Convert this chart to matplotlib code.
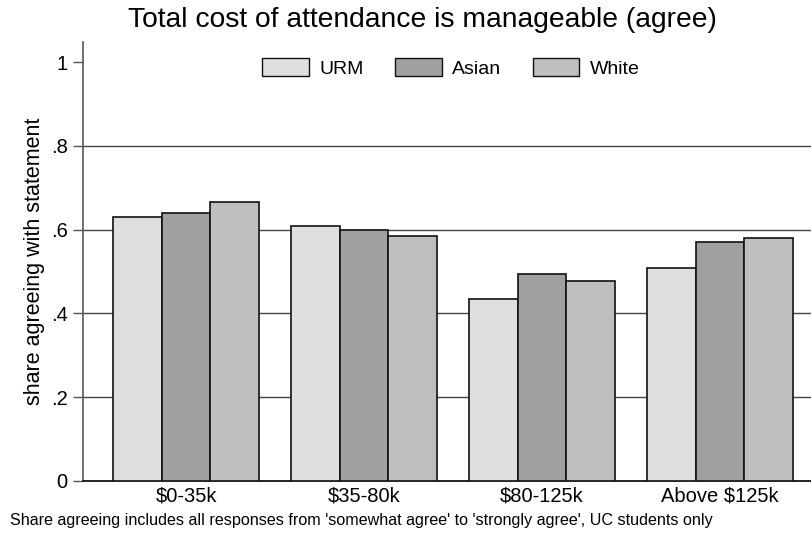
import numpy as np
import matplotlib.pyplot as plt
from matplotlib.ticker import FixedLocator, FuncFormatter

plt.rcParams['font.family'] = ['Liberation Sans', 'DejaVu Sans']

# Data
income_groups = ['$0-35k', '$35-80k', '$80-125k', 'Above $125k']
share_urm = [0.631, 0.609, 0.435, 0.509]
share_asian = [0.640, 0.599, 0.495, 0.571]
share_white = [0.665, 0.585, 0.478, 0.580]
series_names = ['URM', 'Asian', 'White']
series_colors = ['#dfdfdf', '#a0a0a0', '#bfbfbf']

W, H = 812, 535
fig = plt.figure(figsize=(W / 100, H / 100), dpi=100)
# axes box in pixel coordinates: left 83, right 812, top 42, bottom 481
ax = fig.add_axes([83 / W, 1 - 481 / H, (812 - 83) / W, (481 - 42) / H])

x = np.arange(len(income_groups))
bw = 0.2736
for i, (vals, name, col) in enumerate(zip([share_urm, share_asian, share_white],
                                          series_names, series_colors)):
    ax.bar(x + (i - 1) * bw, vals, width=bw, color=col, edgecolor='#111111',
           linewidth=1.2, label=name, zorder=3)

ax.set_xlim(-0.579, 3.517)
ax.set_ylim(0, 1.048)

ax.yaxis.set_major_locator(FixedLocator([0, 0.2, 0.4, 0.6, 0.8, 1.0]))
ax.yaxis.set_major_formatter(FuncFormatter(
    lambda v, p: '0' if v == 0 else ('1' if v == 1 else ('%.1f' % v).lstrip('0'))))
for g in [0.2, 0.4, 0.6, 0.8]:
    ax.axhline(g, color='#444444', linewidth=1.0, zorder=1)

ax.set_xticks(x)
ax.set_xticklabels(income_groups, fontsize=14.5)
ax.tick_params(axis='x', length=0, pad=4)
ax.tick_params(axis='y', length=7, width=1, color='#555555', labelsize=14.5, pad=4)

for s in ['top', 'right']:
    ax.spines[s].set_visible(False)
ax.spines['left'].set_color('#555555')
ax.spines['left'].set_linewidth(1.2)
ax.spines['bottom'].set_color('#222222')
ax.spines['bottom'].set_linewidth(1.4)

ax.set_ylabel('share agreeing with statement', fontsize=15.5, labelpad=4)

fig.text(422 / W, 1 - 20 / H, 'Total cost of attendance is manageable (agree)',
         fontsize=20.3, ha='center', va='center')

leg = ax.legend(loc='center', bbox_to_anchor=((451 - 83) / (812 - 83), (481 - 68) / (481 - 42)),
                ncol=3, frameon=False, fontsize=14, handlelength=2.4,
                handleheight=1.0, columnspacing=1.6, handletextpad=0.55)
for p in leg.get_patches():
    p.set_linewidth(1.0)

fig.text(10 / W, 1 - 520 / H,
         "Share agreeing includes all responses from 'somewhat agree' to 'strongly agree', UC students only",
         fontsize=11.6, ha='left', va='center')

fig.savefig('out.png', dpi=100)
